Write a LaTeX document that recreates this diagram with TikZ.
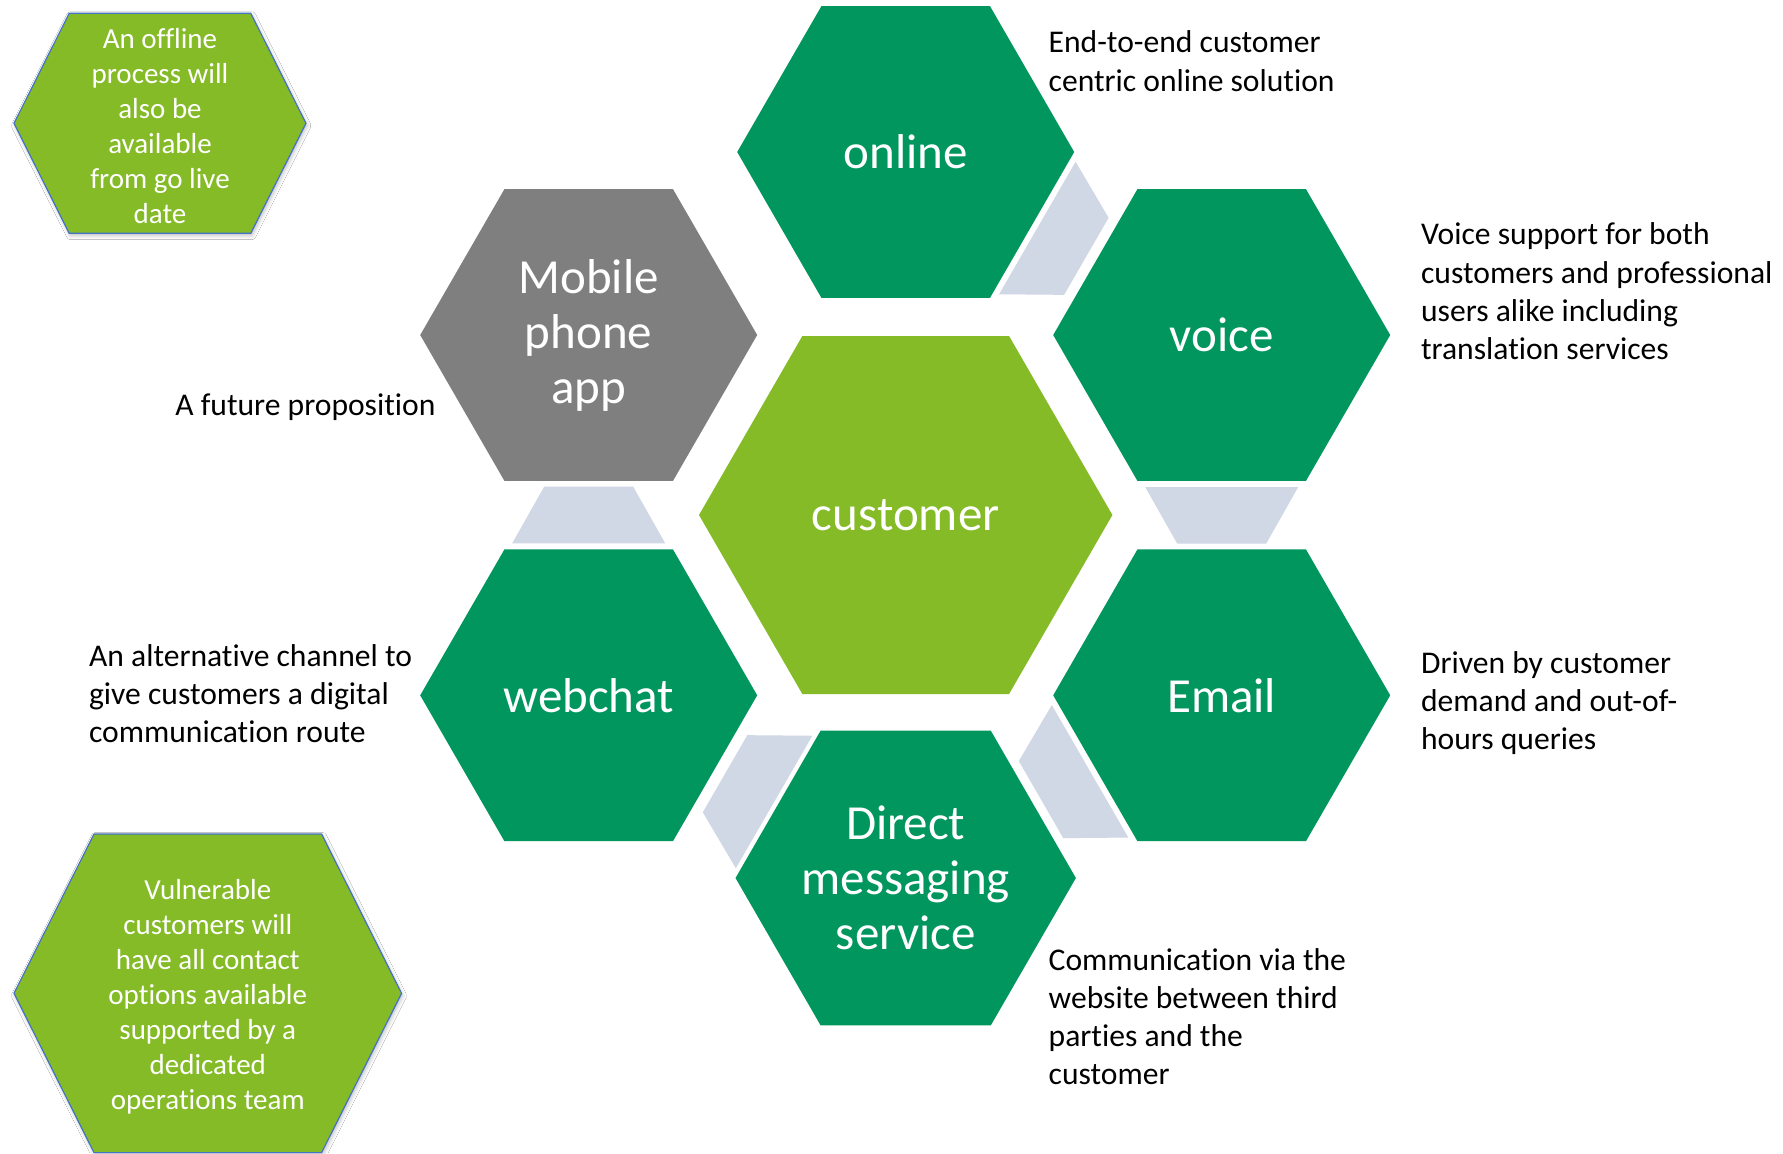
\documentclass[tikz,border=0pt]{standalone}
\usepackage{fontspec}
\setmainfont{Carlito}[Ligatures=NoCommon]
\usetikzlibrary{shapes.geometric,shadows.blur}

\definecolor{channelgreen}{HTML}{00965E}
\definecolor{leafgreen}{HTML}{84BB26}
\definecolor{futuregray}{HTML}{7F7F7F}
\definecolor{linkblue}{HTML}{D0D7E5}
\definecolor{rimblue}{HTML}{4472C4}

\tikzset{
  channelhex/.style={regular polygon, regular polygon sides=6, inner sep=0pt,
    fill=channelgreen, text=white, align=center,
    font=\fontsize{24.5}{27.5}\selectfont, minimum size=168.5pt},
  hubhex/.style={channelhex, fill=leafgreen, minimum size=206.7pt},
  futurehex/.style={channelhex, fill=futuregray},
  linkshape/.style={fill=linkblue},
  % anchored at the baseline of the last line
  note/.style={align=left, anchor=base west, inner sep=0pt, text=black,
    font=\fontsize{15.8}{19.1}\selectfont},
  infohex/.style={fill=leafgreen, draw=rimblue, line width=0.6pt,
    blur shadow={shadow xshift=0.6pt, shadow yshift=-1.2pt,
      shadow opacity=25, shadow blur steps=4}},
  infotext/.style={text=white, align=center, inner sep=0pt,
    font=\fontsize{14.5}{17.5}\selectfont},
}

\begin{document}
\begin{tikzpicture}[x=0.5pt, y=-0.5pt]
  \clip (0,0) rectangle (1783,1153);
  \fill[white] (0,0) rectangle (1783,1153);

  % hexagon cluster
  \node[channelhex] (online)  at (905.7,152)   {online};
  \node[channelhex] (voice)   at (1221.7,335)  {voice};
  \node[channelhex] (email)   at (1221.7,695.3) {Email};
  \node[channelhex] (direct)  at (905.7,878)   {Direct\\messaging\\service};
  \node[channelhex] (webchat) at (588.7,695.3) {webchat};
  \node[futurehex]  (mobile)  at (588.7,335)   {Mobile\\phone\\app};
  \node[hubhex]     (hub)     at (905.7,515)   {customer};

  % links between neighbouring channels (wide end at the source)
  \foreach \src/\ang in {online/-30, voice/-90, email/-150, direct/150, webchat/90}{
    \begin{scope}[shift={(\src.center)}, rotate=\ang]
      \fill[linkshape] (152,76.5) -- (152,-76.5) -- (208.6,-44.5) -- (208.6,44.5) -- cycle;
    \end{scope}
  }

  % side notes
  \node[note] (onlinenote)  at (1048.3,91)    {End-to-end customer\\centric online solution};
  \node[note] (voicenote)   at (1420.7,359.5) {Voice support for both\\customers and professional\\users alike including\\translation services};
  \node[note] (mobilenote)  at (175,415.7)    {A future proposition};
  \node[note] (webchatnote) at (88.7,742.4)   {An alternative channel to\\give customers a digital\\communication route};
  \node[note] (emailnote)   at (1420.7,749.4) {Driven by customer\\demand and out-of-\\hours queries};
  \node[note] (directnote)  at (1048.3,1084.6) {Communication via the\\website between third\\parties and the\\customer};

  % information hexagons
  \path[infohex] (14,123.3) -- (69.2,13.3) -- (250.8,13.3) -- (306,123.3)
    -- (250.8,233.3) -- (69.2,233.3) -- cycle;
  \node[infotext] (offline) at (160,126)
    {An offline\\process will\\also be\\available\\from go live\\date};

  \path[infohex] (14,993.3) -- (94,834) -- (321.6,834) -- (401.6,993.3)
    -- (321.6,1152.6) -- (94,1152.6) -- cycle;
  \node[infotext] (vulnerable) at (207.8,997)
    {Vulnerable\\customers will\\have all contact\\options available\\supported by a\\dedicated\\operations team};
\end{tikzpicture}
\end{document}
